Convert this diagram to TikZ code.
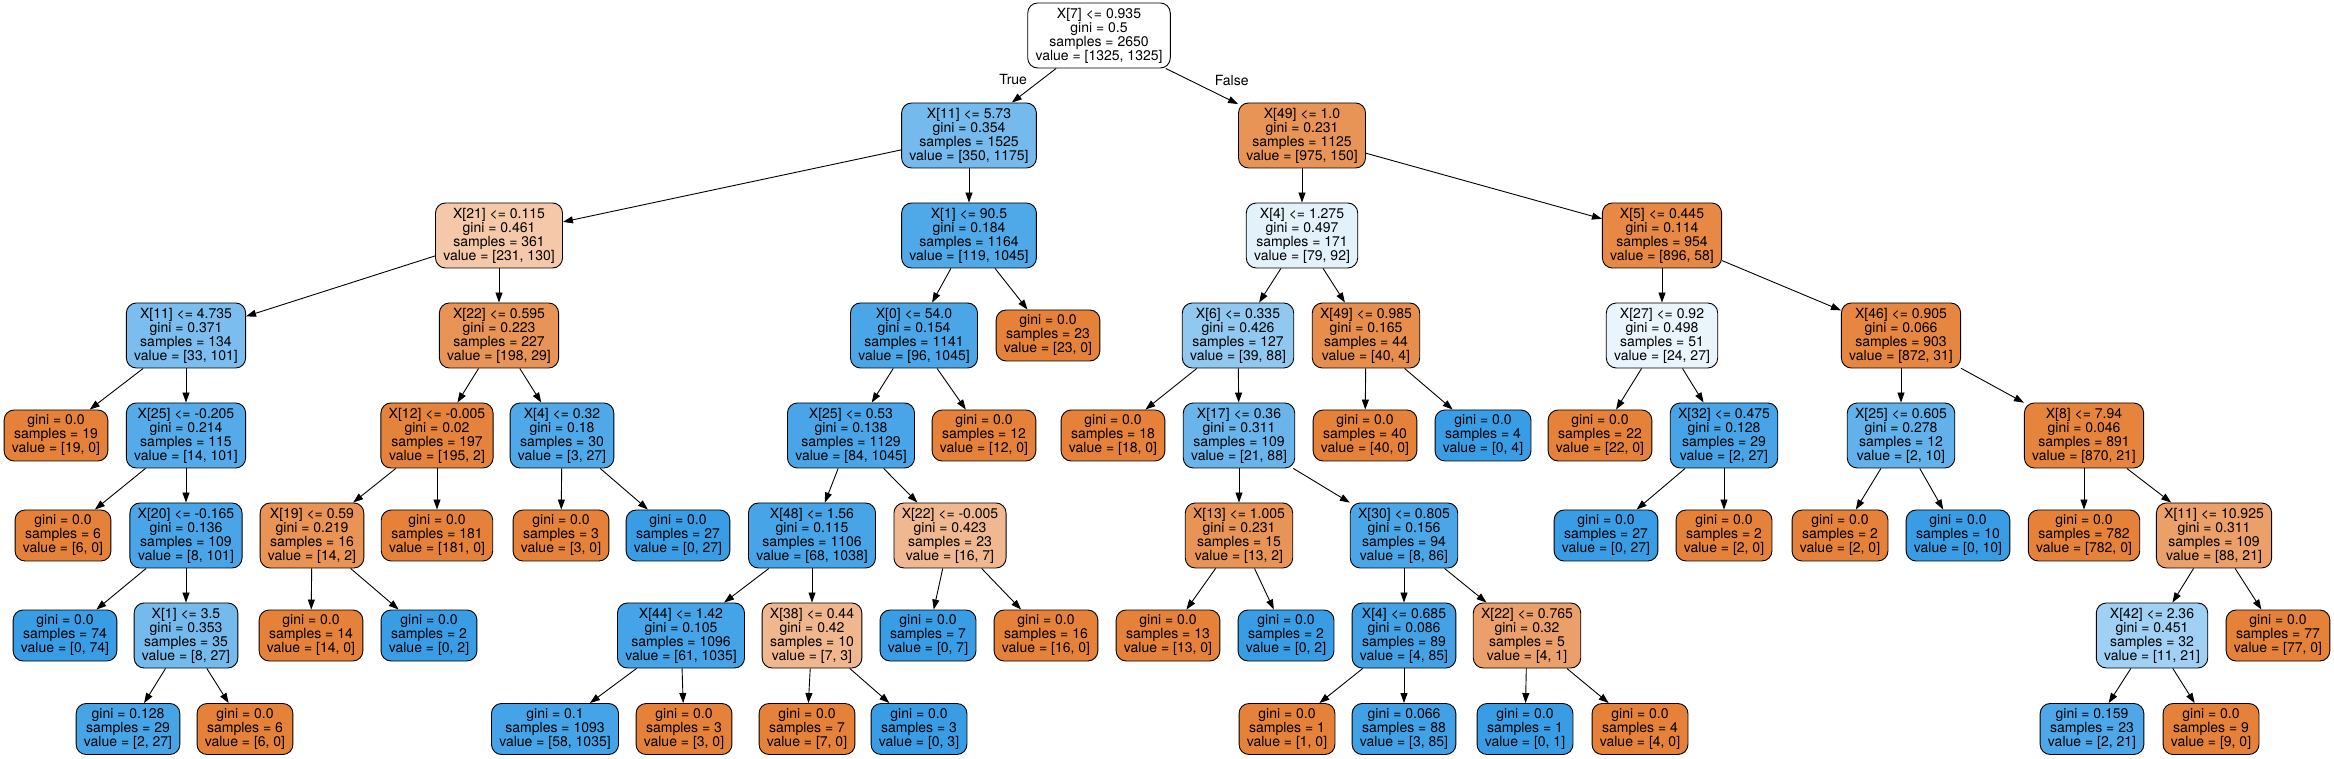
\documentclass[tikz,border=0pt]{standalone}
\usepackage{fontspec}
\setmainfont{TeX Gyre Heros}
\usepackage{tikz}
\usetikzlibrary{positioning,arrows.meta}
\definecolor{org}{RGB}{229,129,57}
\definecolor{blu}{RGB}{57,157,229}

\begin{document}
\begin{tikzpicture}[x=1pt, y=1pt, node distance={100pt}, line width=0.9pt,
    >={Triangle[length=10pt,width=7pt]},
    main/.style={draw, rectangle, rounded corners=10pt, align=center, font=\fontsize{14}{14}\selectfont, inner xsep=7.8pt, inner ysep=3pt, minimum height=65pt},
    leafnode/.style={main, minimum height=51pt},
    ofill/.style={fill=org!#1!white}, bfill/.style={fill=blu!#1!white},
    lbl/.style={inner sep=0pt, font=\fontsize{14}{14}\selectfont}]
		\useasboundingbox (0,0) rectangle (2334,758);
		\node[main, fill=white] (0) at (1099,722.5) {X[7] <= 0.935\\gini = 0.5\\samples = 2650\\value = [1325, 1325]};
		% level 1
		\node[main, bfill=70] (1) [below of=0, xshift=-130pt] {X[11] <= 5.73\\gini = 0.354\\samples = 1525\\value = [350, 1175]};
		\node[main, ofill=85] (36) [below of=0, xshift=203pt] {X[49] <= 1.0\\gini = 0.231\\samples = 1125\\value = [975, 150]};
		% level 2
		\node[main, ofill=44] (2) [below of=1, xshift=-470pt] {X[21] <= 0.115\\gini = 0.461\\samples = 361\\value = [231, 130]};
		\node[main, bfill=89] (21) [below of=1] {X[1] <= 90.5\\gini = 0.184\\samples = 1164\\value = [119, 1045]};
		\node[main, bfill=14] (37) [below of=36] {X[4] <= 1.275\\gini = 0.497\\samples = 171\\value = [79, 92]};
		\node[main, ofill=94] (54) [below of=36, xshift=360pt] {X[5] <= 0.445\\gini = 0.114\\samples = 954\\value = [896, 58]};
		% level 3
		\node[main, bfill=67] (3) [below of=2, xshift=-313pt] {X[11] <= 4.735\\gini = 0.371\\samples = 134\\value = [33, 101]};
		\node[main, ofill=85] (12) [below of=2] {X[22] <= 0.595\\gini = 0.223\\samples = 227\\value = [198, 29]};
		\node[main, bfill=91] (22) [below of=21, xshift=-55pt] {X[0] <= 54.0\\gini = 0.154\\samples = 1141\\value = [96, 1045]};
		\node[leafnode, ofill=100] (35) [below of=21, xshift=79pt] {gini = 0.0\\samples = 23\\value = [23, 0]};
		\node[main, bfill=56] (38) [below of=37, xshift=-64pt] {X[6] <= 0.335\\gini = 0.426\\samples = 127\\value = [39, 88]};
		\node[main, ofill=90] (51) [below of=37, xshift=64pt] {X[49] <= 0.985\\gini = 0.165\\samples = 44\\value = [40, 4]};
		\node[main, bfill=11] (55) [below of=54] {X[27] <= 0.92\\gini = 0.498\\samples = 51\\value = [24, 27]};
		\node[main, ofill=96] (60) [below of=54, xshift=239pt] {X[46] <= 0.905\\gini = 0.066\\samples = 903\\value = [872, 31]};
		% level 4
		\node[leafnode, ofill=100] (4) [below of=3, xshift=-130pt] {gini = 0.0\\samples = 19\\value = [19, 0]};
		\node[main, bfill=86] (5) [below of=3] {X[25] <= -0.205\\gini = 0.214\\samples = 115\\value = [14, 101]};
		\node[main, ofill=99] (13) [below of=12, xshift=-62pt] {X[12] <= -0.005\\gini = 0.02\\samples = 197\\value = [195, 2]};
		\node[main, bfill=89] (18) [below of=12, xshift=63pt] {X[4] <= 0.32\\gini = 0.18\\samples = 30\\value = [3, 27]};
		\node[main, bfill=92] (23) [below of=22, xshift=-63pt] {X[25] <= 0.53\\gini = 0.138\\samples = 1129\\value = [84, 1045]};
		\node[leafnode, ofill=100] (34) [below of=22, xshift=70pt] {gini = 0.0\\samples = 12\\value = [12, 0]};
		\node[leafnode, ofill=100] (39) [below of=38, xshift=-125pt] {gini = 0.0\\samples = 18\\value = [18, 0]};
		\node[main, bfill=76] (40) [below of=38, xshift=1pt] {X[17] <= 0.36\\gini = 0.311\\samples = 109\\value = [21, 88]};
		\node[leafnode, ofill=100] (52) [below of=51, xshift=-1pt] {gini = 0.0\\samples = 40\\value = [40, 0]};
		\node[leafnode, bfill=100] (53) [below of=51, xshift=117pt] {gini = 0.0\\samples = 4\\value = [0, 4]};
		\node[leafnode, ofill=100] (56) [below of=55, xshift=-62pt] {gini = 0.0\\samples = 22\\value = [22, 0]};
		\node[main, bfill=93] (57) [below of=55, xshift=62pt] {X[32] <= 0.475\\gini = 0.128\\samples = 29\\value = [2, 27]};
		\node[main, bfill=80] (61) [below of=60] {X[25] <= 0.605\\gini = 0.278\\samples = 12\\value = [2, 10]};
		\node[main, ofill=98] (64) [below of=60, xshift=183pt] {X[8] <= 7.94\\gini = 0.046\\samples = 891\\value = [870, 21]};
		% level 5
		\node[leafnode, ofill=100] (6) [below of=5, xshift=-123pt] {gini = 0.0\\samples = 6\\value = [6, 0]};
		\node[main, bfill=92] (7) [below of=5] {X[20] <= -0.165\\gini = 0.136\\samples = 109\\value = [8, 101]};
		\node[main, ofill=86] (14) [below of=13, xshift=-125pt] {X[19] <= 0.59\\gini = 0.219\\samples = 16\\value = [14, 2]};
		\node[leafnode, ofill=100] (17) [below of=13] {gini = 0.0\\samples = 181\\value = [181, 0]};
		\node[leafnode, ofill=100] (19) [below of=18, xshift=-1pt] {gini = 0.0\\samples = 3\\value = [3, 0]};
		\node[leafnode, bfill=100] (20) [below of=18, xshift=116pt] {gini = 0.0\\samples = 27\\value = [0, 27]};
		\node[main, bfill=93] (24) [below of=23, xshift=-39pt] {X[48] <= 1.56\\gini = 0.115\\samples = 1106\\value = [68, 1038]};
		\node[main, ofill=56] (31) [below of=23, xshift=99pt] {X[22] <= -0.005\\gini = 0.423\\samples = 23\\value = [16, 7]};
		\node[main, ofill=85] (41) [below of=40] {X[13] <= 1.005\\gini = 0.231\\samples = 15\\value = [13, 2]};
		\node[main, bfill=91] (44) [below of=40, xshift=165pt] {X[30] <= 0.805\\gini = 0.156\\samples = 94\\value = [8, 86]};
		\node[leafnode, bfill=100] (58) [below of=57, xshift=-118pt] {gini = 0.0\\samples = 27\\value = [0, 27]};
		\node[leafnode, ofill=100] (59) [below of=57] {gini = 0.0\\samples = 2\\value = [2, 0]};
		\node[leafnode, ofill=100] (62) [below of=61, xshift=-61pt] {gini = 0.0\\samples = 2\\value = [2, 0]};
		\node[leafnode, bfill=100] (63) [below of=61, xshift=57pt] {gini = 0.0\\samples = 10\\value = [0, 10]};
		\node[leafnode, ofill=100] (65) [below of=64] {gini = 0.0\\samples = 782\\value = [782, 0]};
		\node[main, ofill=76] (66) [below of=64, xshift=130pt] {X[11] <= 10.925\\gini = 0.311\\samples = 109\\value = [88, 21]};
		% level 6
		\node[leafnode, bfill=100] (8) [below of=7, xshift=-121pt] {gini = 0.0\\samples = 74\\value = [0, 74]};
		\node[main, bfill=70] (9) [below of=7] {X[1] <= 3.5\\gini = 0.353\\samples = 35\\value = [8, 27]};
		\node[leafnode, ofill=100] (15) [below of=14, xshift=-1pt] {gini = 0.0\\samples = 14\\value = [14, 0]};
		\node[leafnode, bfill=100] (16) [below of=14, xshift=117pt] {gini = 0.0\\samples = 2\\value = [0, 2]};
		\node[main, bfill=94] (25) [below of=24, xshift=-131pt] {X[44] <= 1.42\\gini = 0.105\\samples = 1096\\value = [61, 1035]};
		\node[main, ofill=57] (28) [below of=24] {X[38] <= 0.44\\gini = 0.42\\samples = 10\\value = [7, 3]};
		\node[leafnode, bfill=100] (32) [below of=31, xshift=-22pt] {gini = 0.0\\samples = 7\\value = [0, 7]};
		\node[leafnode, ofill=100] (33) [below of=31, xshift=96pt] {gini = 0.0\\samples = 16\\value = [16, 0]};
		\node[leafnode, ofill=100] (42) [below of=41, xshift=-71pt] {gini = 0.0\\samples = 13\\value = [13, 0]};
		\node[leafnode, bfill=100] (43) [below of=41, xshift=47pt] {gini = 0.0\\samples = 2\\value = [0, 2]};
		\node[main, bfill=95] (45) [below of=44] {X[4] <= 0.685\\gini = 0.086\\samples = 89\\value = [4, 85]};
		\node[main, ofill=75] (48) [below of=44, xshift=123pt] {X[22] <= 0.765\\gini = 0.32\\samples = 5\\value = [4, 1]};
		\node[main, bfill=48] (67) [below of=66, xshift=-62pt] {X[42] <= 2.36\\gini = 0.451\\samples = 32\\value = [11, 21]};
		\node[leafnode, ofill=100] (70) [below of=66, xshift=64pt] {gini = 0.0\\samples = 77\\value = [77, 0]};
		% level 7
		\node[leafnode, bfill=93] (10) [below of=9, xshift=-58pt, yshift=6.5pt] {gini = 0.128\\samples = 29\\value = [2, 27]};
		\node[leafnode, ofill=100] (11) [below of=9, xshift=59pt, yshift=6.5pt] {gini = 0.0\\samples = 6\\value = [6, 0]};
		\node[leafnode, bfill=94] (26) [below of=25, xshift=-126pt, yshift=6.5pt] {gini = 0.1\\samples = 1093\\value = [58, 1035]};
		\node[leafnode, ofill=100] (27) [below of=25, xshift=3pt, yshift=6.5pt] {gini = 0.0\\samples = 3\\value = [3, 0]};
		\node[leafnode, ofill=100] (29) [below of=28, xshift=-5pt, yshift=6.5pt] {gini = 0.0\\samples = 7\\value = [7, 0]};
		\node[leafnode, bfill=100] (30) [below of=28, xshift=107pt, yshift=6.5pt] {gini = 0.0\\samples = 3\\value = [0, 3]};
		\node[leafnode, ofill=100] (46) [below of=45, xshift=-117pt, yshift=6.5pt] {gini = 0.0\\samples = 1\\value = [1, 0]};
		\node[leafnode, bfill=96] (47) [below of=45, yshift=6.5pt] {gini = 0.066\\samples = 88\\value = [3, 85]};
		\node[leafnode, bfill=100] (49) [below of=48, xshift=-2pt, yshift=6.5pt] {gini = 0.0\\samples = 1\\value = [0, 1]};
		\node[leafnode, ofill=100] (50) [below of=48, xshift=113pt, yshift=6.5pt] {gini = 0.0\\samples = 4\\value = [4, 0]};
		\node[leafnode, bfill=90] (68) [below of=67, xshift=-60pt, yshift=6.5pt] {gini = 0.159\\samples = 23\\value = [2, 21]};
		\node[leafnode, ofill=100] (69) [below of=67, xshift=59pt, yshift=6.5pt] {gini = 0.0\\samples = 9\\value = [9, 0]};

		\draw[->] (0) to node[lbl, pos=0.31, left=15pt] (true) {True} (1);
		\draw[->] (0) to node[lbl, pos=0.34, right=24pt] (false) {False} (36);
		\draw[->] (1) to (2);
		\draw[->] (1) to (21);
		\draw[->] (2) to (3);
		\draw[->] (2) to (12);
		\draw[->] (3) to (4);
		\draw[->] (3) to (5);
		\draw[->] (5) to (6);
		\draw[->] (5) to (7);
		\draw[->] (7) to (8);
		\draw[->] (7) to (9);
		\draw[->] (9) to (10);
		\draw[->] (9) to (11);
		\draw[->] (12) to (13);
		\draw[->] (12) to (18);
		\draw[->] (13) to (14);
		\draw[->] (13) to (17);
		\draw[->] (14) to (15);
		\draw[->] (14) to (16);
		\draw[->] (18) to (19);
		\draw[->] (18) to (20);
		\draw[->] (21) to (22);
		\draw[->] (21) to (35);
		\draw[->] (22) to (23);
		\draw[->] (22) to (34);
		\draw[->] (23) to (24);
		\draw[->] (23) to (31);
		\draw[->] (24) to (25);
		\draw[->] (24) to (28);
		\draw[->] (25) to (26);
		\draw[->] (25) to (27);
		\draw[->] (28) to (29);
		\draw[->] (28) to (30);
		\draw[->] (31) to (32);
		\draw[->] (31) to (33);
		\draw[->] (36) to (37);
		\draw[->] (36) to (54);
		\draw[->] (37) to (38);
		\draw[->] (37) to (51);
		\draw[->] (38) to (39);
		\draw[->] (38) to (40);
		\draw[->] (40) to (41);
		\draw[->] (40) to (44);
		\draw[->] (41) to (42);
		\draw[->] (41) to (43);
		\draw[->] (44) to (45);
		\draw[->] (44) to (48);
		\draw[->] (45) to (46);
		\draw[->] (45) to (47);
		\draw[->] (48) to (49);
		\draw[->] (48) to (50);
		\draw[->] (51) to (52);
		\draw[->] (51) to (53);
		\draw[->] (54) to (55);
		\draw[->] (54) to (60);
		\draw[->] (55) to (56);
		\draw[->] (55) to (57);
		\draw[->] (57) to (58);
		\draw[->] (57) to (59);
		\draw[->] (60) to (61);
		\draw[->] (60) to (64);
		\draw[->] (61) to (62);
		\draw[->] (61) to (63);
		\draw[->] (64) to (65);
		\draw[->] (64) to (66);
		\draw[->] (66) to (67);
		\draw[->] (66) to (70);
		\draw[->] (67) to (68);
		\draw[->] (67) to (69);
	\end{tikzpicture}
\end{document}
